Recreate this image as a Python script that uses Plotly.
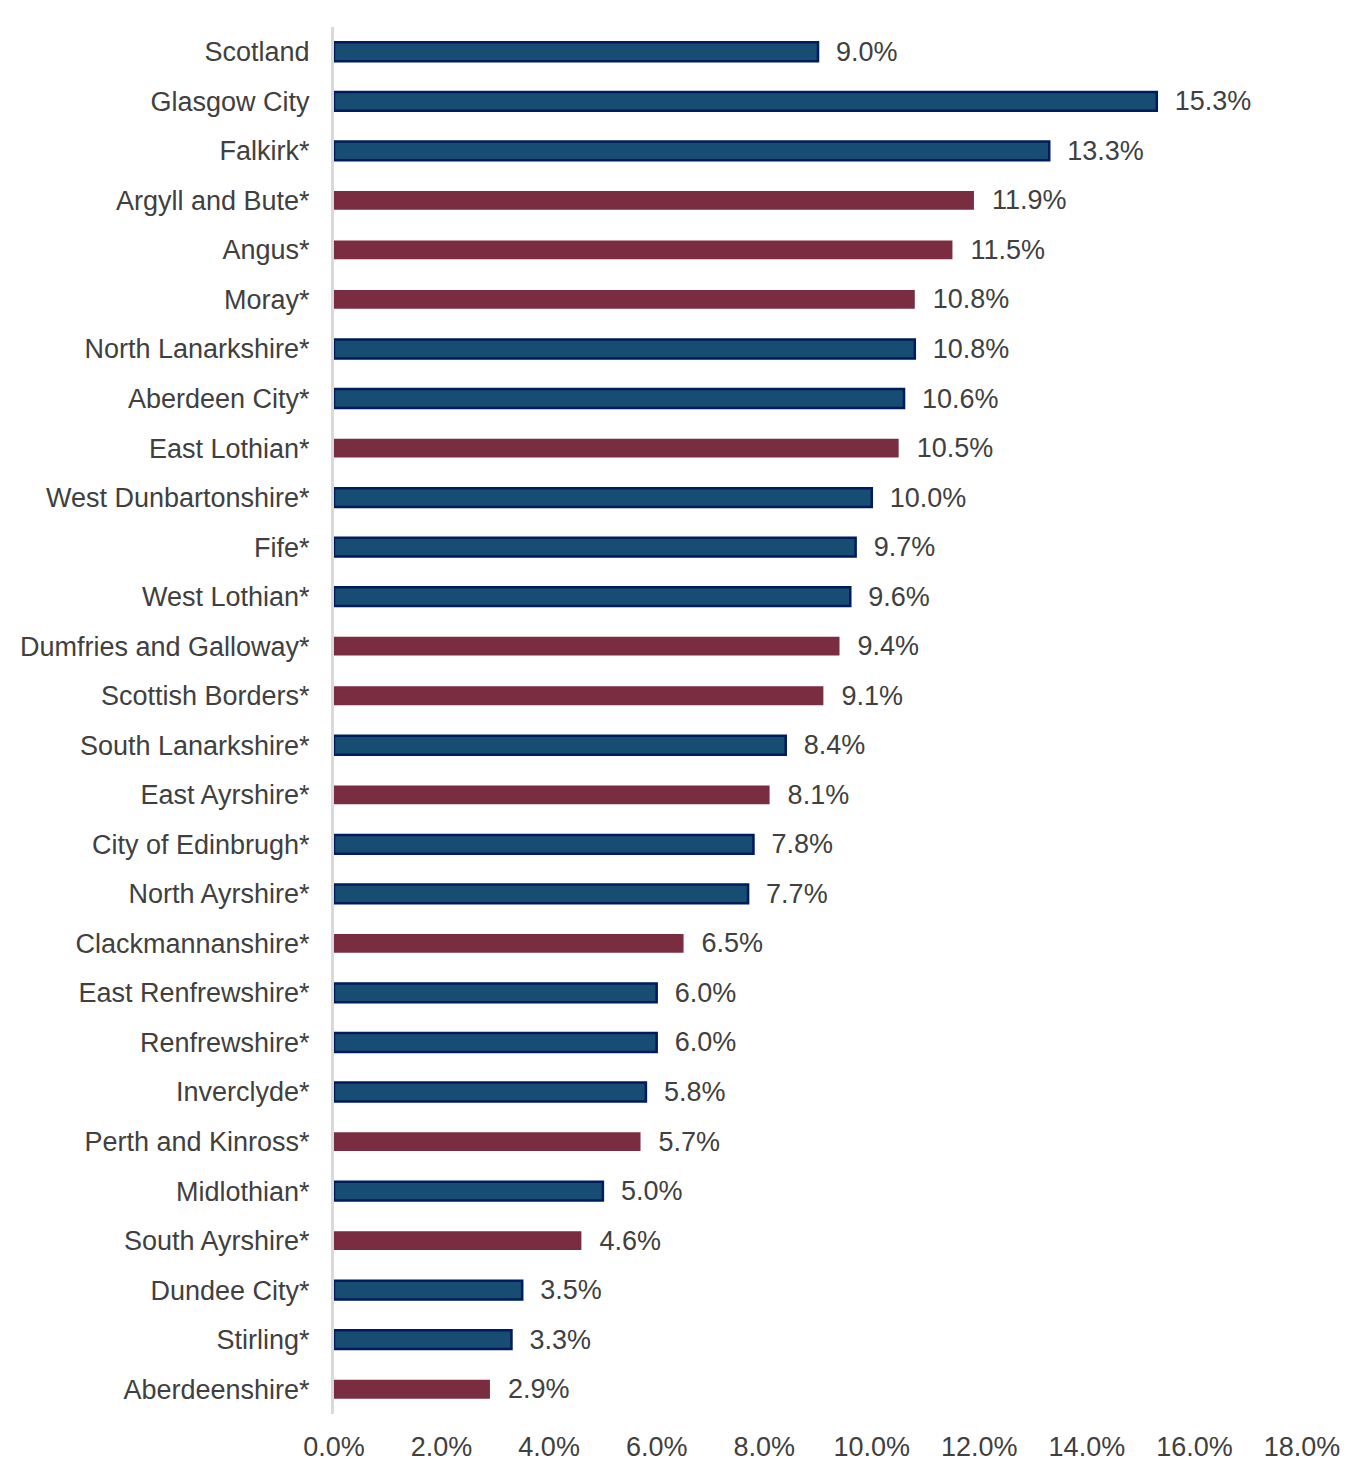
import plotly.graph_objects as go

areas = ["Scotland", "Glasgow City", "Falkirk*", "Argyll and Bute*", "Angus*", "Moray*",
         "North Lanarkshire*", "Aberdeen City*", "East Lothian*", "West Dunbartonshire*",
         "Fife*", "West Lothian*", "Dumfries and Galloway*", "Scottish Borders*",
         "South Lanarkshire*", "East Ayrshire*", "City of Edinbrugh*", "North Ayrshire*",
         "Clackmannanshire*", "East Renfrewshire*", "Renfrewshire*", "Inverclyde*",
         "Perth and Kinross*", "Midlothian*", "South Ayrshire*", "Dundee City*",
         "Stirling*", "Aberdeenshire*"]
values = [9.0, 15.3, 13.3, 11.9, 11.5, 10.8, 10.8, 10.6, 10.5, 10.0, 9.7, 9.6, 9.4, 9.1,
          8.4, 8.1, 7.8, 7.7, 6.5, 6.0, 6.0, 5.8, 5.7, 5.0, 4.6, 3.5, 3.3, 2.9]
# B = blue, M = maroon
groups = ["B", "B", "B", "M", "M", "M", "B", "B", "M", "B", "B", "B", "M", "M",
          "B", "M", "B", "B", "M", "B", "B", "B", "M", "B", "M", "B", "B", "M"]

fill = {"B": "#174C73", "M": "#7A2D40"}
edge = {"B": 2.5, "M": 0}

fig = go.Figure(go.Bar(
    x=values, y=areas, orientation="h", width=0.38,
    marker=dict(color=[fill[g] for g in groups],
                line=dict(color="#001B5E", width=[edge[g] for g in groups])),
    texttemplate="  %{x:.1f}%", textposition="outside", cliponaxis=False,
    constraintext="none",
    textfont=dict(size=27, color="#404040"),
))

# the page has an 8px body margin, so margins are trimmed to match
fig.update_layout(
    width=1370, height=1474, plot_bgcolor="white", paper_bgcolor="white",
    margin=dict(l=324, r=76, t=19, b=68),
    font=dict(family="Liberation Sans, Arial", size=27, color="#404040"),
    showlegend=False, bargap=0.6,
)
fig.update_xaxes(range=[0, 18], dtick=2, tickformat=".1f", ticksuffix="%",
                 showgrid=False, zeroline=False, showline=False, ticks="",
                 ticklabelstandoff=14)
fig.update_yaxes(autorange="reversed", showline=True, linecolor="#D9D9D9", linewidth=3,
                 ticks="", ticklabelstandoff=16, showgrid=False)

fig.write_html("out.html")
